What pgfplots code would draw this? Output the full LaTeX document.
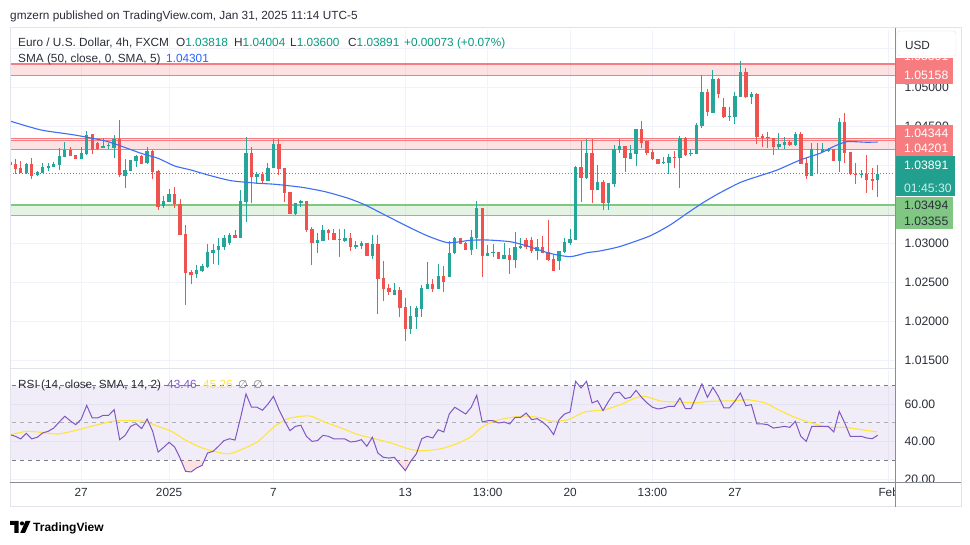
\documentclass[border=0pt]{standalone}
\usepackage{fontspec}
\setmainfont{Liberation Sans}
\newfontfamily\dejavu{DejaVu Sans}
\usepackage{pgfplots}
\usepackage{pgfplotstable}
\pgfplotsset{compat=1.18}
\definecolor{upc}{HTML}{26A69A}
\definecolor{dnc}{HTML}{EF5350}
\definecolor{smac}{HTML}{3D6EF5}
\definecolor{txt}{HTML}{2A2E39}
\definecolor{gridc}{HTML}{F0F3FA}
\definecolor{zred}{HTML}{F23645}
\definecolor{redline}{HTML}{F77C80}
\definecolor{zgreen}{HTML}{4CAF50}
\definecolor{greenline}{HTML}{81C784}
\definecolor{rsic}{HTML}{7E57C2}
\definecolor{rsisma}{HTML}{FFE53B}
\definecolor{scaleline}{HTML}{8A8D96}
\definecolor{dashc}{HTML}{787B86}
\definecolor{framec}{HTML}{E0E3EB}
\definecolor{tealbox}{HTML}{22A08F}
\definecolor{valc}{HTML}{089981}
\definecolor{bluev}{HTML}{2962FF}
\newcommand\fs{\fontsize{11.8pt}{14pt}\selectfont}
\newcommand\fss{\fontsize{12.2pt}{14pt}\selectfont}

\pgfplotstableread{
i O H L C
-1 1.04050 1.04060 1.03990 1.04010
0 1.04019 1.04079 1.03891 1.03959
1 1.03968 1.04058 1.03900 1.03908
2 1.03904 1.04036 1.03891 1.04024
3 1.04019 1.04092 1.03831 1.03870
4 1.03874 1.03929 1.03870 1.03921
5 1.03908 1.04036 1.03908 1.03977
6 1.03972 1.04028 1.03925 1.03998
7 1.03985 1.04049 1.03977 1.04019
8 1.04011 1.04224 1.03942 1.04122
9 1.04113 1.04301 1.04113 1.04199
10 1.04194 1.04233 1.04122 1.04126
11 1.04139 1.04139 1.04079 1.04088
12 1.04088 1.04233 1.04079 1.04156
13 1.04147 1.04442 1.04139 1.04391
14 1.04400 1.04408 1.04147 1.04199
15 1.04293 1.04306 1.04199 1.04207
16 1.04229 1.04348 1.04229 1.04254
17 1.04254 1.04284 1.04216 1.04263
18 1.04229 1.04391 1.04100 1.04340
19 1.04340 1.04583 1.03857 1.03874
20 1.03870 1.04079 1.03716 1.03942
21 1.03934 1.04071 1.03934 1.04071
22 1.04058 1.04135 1.03985 1.04118
23 1.04126 1.04139 1.04019 1.04024
24 1.04028 1.04237 1.04015 1.04186
25 1.04190 1.04194 1.03831 1.03921
26 1.03929 1.03942 1.03429 1.03472
27 1.03476 1.03613 1.03455 1.03545
28 1.03532 1.03699 1.03532 1.03635
29 1.03635 1.03720 1.03455 1.03502
30 1.03502 1.03570 1.03113 1.03113
31 1.03122 1.03237 1.02216 1.02622
32 1.02635 1.02660 1.02477 1.02600
33 1.02605 1.02724 1.02562 1.02656
34 1.02647 1.02733 1.02639 1.02707
35 1.02703 1.02994 1.02682 1.02891
36 1.02882 1.02994 1.02733 1.02921
37 1.02912 1.03071 1.02729 1.02972
38 1.02959 1.03105 1.02917 1.03071
39 1.03002 1.03130 1.02981 1.03109
40 1.03109 1.03173 1.03075 1.03075
41 1.03075 1.03686 1.03075 1.03545
42 1.03536 1.04370 1.03280 1.04160
43 1.04160 1.04241 1.03515 1.03857
44 1.03857 1.03917 1.03763 1.03891
45 1.03891 1.03912 1.03771 1.03806
46 1.03806 1.04028 1.03806 1.03964
47 1.03964 1.04335 1.03964 1.04276
48 1.04276 1.04335 1.03878 1.03955
49 1.03964 1.03964 1.03536 1.03652
50 1.03660 1.03660 1.03383 1.03383
51 1.03374 1.03524 1.03365 1.03515
52 1.03515 1.03558 1.03464 1.03545
53 1.03545 1.03545 1.03152 1.03173
54 1.03186 1.03207 1.02724 1.03011
55 1.03011 1.03130 1.02883 1.03045
56 1.03036 1.03237 1.03036 1.03173
57 1.03173 1.03190 1.03049 1.03130
58 1.03130 1.03186 1.03045 1.03045
59 1.03058 1.03182 1.02831 1.03049
60 1.03036 1.03186 1.03024 1.03075
61 1.03066 1.03130 1.02908 1.02959
62 1.02959 1.03032 1.02934 1.02977
63 1.02972 1.03032 1.02930 1.03006
64 1.03011 1.03011 1.02840 1.02840
65 1.02840 1.03105 1.02806 1.02994
66 1.02994 1.03105 1.02100 1.02545
67 1.02558 1.02776 1.02263 1.02417
68 1.02430 1.02481 1.02340 1.02378
69 1.02344 1.02489 1.02344 1.02404
70 1.02404 1.02438 1.02058 1.02177
71 1.02186 1.02306 1.01754 1.01904
72 1.01904 1.02203 1.01844 1.02071
73 1.02062 1.02199 1.01904 1.02173
74 1.02160 1.02464 1.02062 1.02430
75 1.02421 1.02763 1.02421 1.02481
76 1.02481 1.02541 1.02383 1.02417
77 1.02417 1.02733 1.02417 1.02583
78 1.02583 1.02712 1.02383 1.02511
79 1.02575 1.03032 1.02575 1.02874
80 1.02874 1.03088 1.02861 1.03075
81 1.03071 1.03071 1.02989 1.02989
82 1.03002 1.03024 1.02921 1.02921
83 1.02921 1.03173 1.02857 1.03079
84 1.03075 1.03549 1.02930 1.03451
85 1.03451 1.03451 1.02575 1.02844
86 1.02844 1.02981 1.02844 1.02878
87 1.02882 1.02994 1.02823 1.02887
88 1.02891 1.02891 1.02806 1.02806
89 1.02806 1.03006 1.02806 1.02853
90 1.02853 1.02947 1.02605 1.02788
91 1.02788 1.03147 1.02682 1.02955
92 1.02942 1.03075 1.02934 1.02968
93 1.03045 1.03071 1.02934 1.02951
94 1.03045 1.03079 1.02874 1.02908
95 1.02908 1.03053 1.02784 1.02951
96 1.02951 1.03100 1.02874 1.02882
97 1.02895 1.03301 1.02780 1.02793
98 1.02801 1.02853 1.02652 1.02652
99 1.02780 1.02904 1.02660 1.02904
100 1.02895 1.03071 1.02882 1.03019
101 1.03011 1.03186 1.02985 1.03062
102 1.03049 1.03989 1.03049 1.03981
103 1.03981 1.04310 1.03536 1.03844
104 1.03835 1.04340 1.03827 1.04160
105 1.04160 1.04340 1.03524 1.03686
106 1.03686 1.04002 1.03686 1.03788
107 1.03788 1.03814 1.03425 1.03524
108 1.03524 1.03771 1.03430 1.03771
109 1.03767 1.04263 1.03729 1.04212
110 1.04194 1.04344 1.04165 1.04246
111 1.04246 1.04246 1.03917 1.04092
112 1.04083 1.04263 1.04079 1.04165
113 1.04147 1.04464 1.03998 1.04464
114 1.04464 1.04571 1.04224 1.04293
115 1.04318 1.04318 1.04130 1.04165
116 1.04173 1.04216 1.04071 1.04079
117 1.04079 1.04079 1.04024 1.04024
118 1.04028 1.04105 1.04024 1.04045
119 1.04028 1.04148 1.03891 1.04113
120 1.04109 1.04190 1.03964 1.04101
121 1.04101 1.04383 1.03716 1.04348
122 1.04348 1.04370 1.04126 1.04135
123 1.04152 1.04207 1.04122 1.04165
124 1.04152 1.04541 1.04152 1.04519
125 1.04506 1.05156 1.04477 1.04942
126 1.04942 1.04981 1.04639 1.04682
127 1.04677 1.05224 1.04677 1.05109
128 1.05109 1.05126 1.04861 1.04921
129 1.04746 1.04870 1.04613 1.04626
130 1.04626 1.04754 1.04571 1.04635
131 1.04626 1.04947 1.04536 1.04887
132 1.04883 1.05340 1.04883 1.05199
133 1.05199 1.05246 1.04861 1.04874
134 1.04883 1.04947 1.04793 1.04917
135 1.04917 1.04925 1.04276 1.04370
136 1.04378 1.04400 1.04237 1.04357
137 1.04370 1.04425 1.04229 1.04361
138 1.04353 1.04353 1.04135 1.04237
139 1.04237 1.04412 1.04212 1.04276
140 1.04263 1.04365 1.04212 1.04306
141 1.04297 1.04327 1.04254 1.04263
142 1.04263 1.04434 1.04254 1.04404
143 1.04404 1.04434 1.04019 1.04019
144 1.04028 1.04092 1.03823 1.03870
145 1.03870 1.04284 1.03870 1.04207
146 1.04207 1.04284 1.03891 1.04199
147 1.04177 1.04284 1.04177 1.04207
148 1.04182 1.04229 1.04177 1.04216
149 1.04216 1.04216 1.04058 1.04058
150 1.04058 1.04605 1.03912 1.04558
151 1.04558 1.04669 1.04028 1.04165
152 1.04173 1.04173 1.03878 1.03891
153 1.03895 1.04028 1.03763 1.03887
154 1.03887 1.03942 1.03836 1.03895
155 1.03895 1.04135 1.03652 1.03814
156 1.03827 1.03964 1.03686 1.03806
157 1.03818 1.04004 1.03600 1.03891
}\ohlc

\pgfplotstableread{
i s
-0.96 1.04570
4.7 1.04455
10.8 1.04391
16.9 1.04305
22.9 1.04156
26.0 1.04092
29.0 1.03994
32.0 1.03942
35.1 1.03878
39.3 1.03805
44.2 1.03772
47.3 1.03759
52.2 1.03720
56.4 1.03664
60.6 1.03580
63.7 1.03494
67.3 1.03365
71.5 1.03215
75.1 1.03096
78.8 1.03010
82.8 1.03041
85.9 1.03045
90.1 1.03023
93.2 1.02968
97.3 1.02874
101.0 1.02831
104.1 1.02882
106.4 1.02904
110.1 1.02962
115.5 1.03096
119.2 1.03237
122.3 1.03387
125.2 1.03523
127.9 1.03635
131.9 1.03780
135.0 1.03856
138.7 1.03942
142.9 1.04071
146.5 1.04156
148.9 1.04241
151.4 1.04305
155.0 1.04298
157.0 1.04301
}\smadata

\pgfplotstableread{
i r
-1 43.8
0 42.9
1 41.5
2 44.5
3 41.5
4 42.4
5 44.7
6 45.6
7 47.3
8 50.5
9 53.6
10 51.2
11 49.1
12 52.1
13 59.4
14 52.7
15 52.7
16 54.1
17 54.1
18 57.1
19 41.1
20 43.4
21 48.2
22 49.6
23 47.0
24 52.1
25 45.6
26 34.5
27 37.0
28 39.7
29 37.2
30 31.3
31 24.2
32 23.9
33 26.0
34 27.4
35 34.0
36 34.9
37 37.6
38 40.6
39 41.6
40 40.9
41 52.7
42 65.5
43 58.4
44 58.4
45 56.8
46 60.1
47 64.2
48 57.1
49 51.2
50 45.9
51 48.2
52 48.8
53 42.9
54 40.2
55 40.6
56 43.4
57 42.9
58 41.5
59 41.5
60 41.5
61 39.9
62 40.2
63 41.1
64 37.6
65 42.4
66 34.0
67 31.7
68 31.3
69 31.7
70 28.1
71 24.6
72 29.6
73 33.5
74 41.6
75 42.9
76 42.0
77 46.4
78 45.2
79 54.8
80 58.4
81 56.6
82 54.8
83 58.4
84 64.8
85 50.5
86 51.2
87 51.2
88 50.0
89 50.5
90 49.5
91 53.0
92 53.0
93 55.3
94 51.8
95 52.3
96 50.5
97 47.9
98 43.8
99 51.8
100 54.8
101 55.9
102 72.2
103 68.7
104 72.2
105 60.7
106 61.9
107 56.6
108 61.6
109 66.0
110 66.4
111 63.0
112 63.7
113 67.4
114 63.7
115 60.7
116 58.4
117 57.5
118 58.0
119 58.9
120 58.9
121 63.3
122 57.6
123 57.6
124 64.2
125 70.8
126 63.7
127 69.0
128 64.2
129 58.0
130 58.0
131 61.6
132 66.0
133 59.2
134 59.8
135 49.5
136 49.5
137 49.1
138 47.3
139 47.7
140 48.2
141 47.7
142 50.9
143 42.9
144 40.2
145 48.2
146 48.2
147 48.2
148 48.2
149 45.2
150 56.2
151 50.0
152 42.9
153 42.9
154 42.9
155 42.0
156 41.6
157 43.46
}\rsidata

\pgfplotstableread{
i r
-0.96 43.6
0.49 44.7
2.31 45.6
4.74 45.0
7.77 44.1
10.81 45.9
13.84 48.2
16.87 50.4
18.70 51.2
21.12 51.2
23.55 50.9
25.98 48.2
28.40 45.6
30.83 41.1
33.26 37.6
35.69 35.2
38.72 33.5
41.15 35.8
44.18 40.2
47.22 48.2
49.64 52.3
52.07 53.6
53.89 53.6
56.32 50.5
59.35 47.3
62.39 43.8
65.42 41.6
68.46 39.3
71.49 36.3
73.92 35.2
77.56 36.3
80.66 39.3
83.08 42.9
84.91 47.7
87.33 51.2
90.37 53.0
92.79 53.7
95.83 52.7
97.65 50.9
100.68 51.8
103.72 55.9
107.36 57.1
110.39 60.1
112.82 63.3
114.64 64.2
117.67 61.6
120.71 61.2
123.74 60.8
126.78 61.6
131.02 61.9
133.45 62.4
136.49 60.7
138.91 57.1
141.95 53.0
144.98 50.0
148.02 47.7
151.05 47.7
154.09 46.4
156.88 45.26
}\rsismadata

\newcommand\pbox[6]{%
  \fill[#3] (895.5,545-#1) rectangle (#6,545-#2);
  \node[anchor=west,inner sep=0pt,text=#4,font=\fss] at (904,545-0.5*#1-0.5*#2) {#5};}

\begin{document}
\begin{tikzpicture}
\path[use as bounding box] (0,0) rectangle (970pt,545pt);
\fill[white] (0,0) rectangle (970pt,545pt);

% ---------------- main price pane ----------------
\begin{axis}[
  at={(10pt,176pt)}, anchor=south west, scale only axis,
  width=885pt, height=339pt,
  xmin=-0.965, xmax=160.15,
  ymin=1.013910, ymax=1.057372,
  axis line style={draw=none},
  major tick length=0pt,
  xtick={12,28,47,71,86,101,116,131,159},
  xticklabels={},
  ytick={1.015,1.02,1.025,1.03,1.035,1.04,1.045,1.05,1.055},
  yticklabel pos=right,
  grid=major,
  grid style={draw=gridc, line width=1pt},
  yticklabel style={anchor=west, inner sep=0pt, xshift=9.5pt, font=\fss, text=txt,
    /pgf/number format/.cd, fixed, fixed zerofill, precision=5, assume math mode=true},
]
% zones
\addplot[draw=none, fill=zred, fill opacity=0.14, forget plot] coordinates {(-2,1.05158) (162,1.05158) (162,1.05301) (-2,1.05301)} -- cycle;
\addplot[draw=none, fill=zred, fill opacity=0.14, forget plot] coordinates {(-2,1.04201) (162,1.04201) (162,1.04344) (-2,1.04344)} -- cycle;
\addplot[draw=none, fill=zgreen, fill opacity=0.15, forget plot] coordinates {(-2,1.03355) (162,1.03355) (162,1.03494) (-2,1.03494)} -- cycle;
\addplot[redline, line width=2pt, forget plot] coordinates {(-2,1.05301) (162,1.05301)};
\addplot[redline, line width=1.2pt, forget plot] coordinates {(-2,1.05158) (162,1.05158)};
\addplot[redline, line width=1.2pt, forget plot] coordinates {(-2,1.04344) (162,1.04344)};
\addplot[redline, line width=1.2pt, forget plot] coordinates {(-2,1.04318) (162,1.04318)};
\addplot[redline, line width=1.2pt, forget plot] coordinates {(-2,1.04201) (162,1.04201)};
\addplot[greenline, line width=2pt, forget plot] coordinates {(-2,1.03494) (162,1.03494)};
\addplot[greenline, line width=1.2pt, forget plot] coordinates {(-2,1.03355) (162,1.03355)};
% last price line
\addplot[upc, line width=1pt, dash pattern=on 1pt off 2pt, forget plot] coordinates {(-2,1.03891) (162,1.03891)};
% candles
\pgfplotstablegetrowsof{\ohlc}
\pgfmathtruncatemacro\lastrow{\pgfplotsretval-1}
\pgfplotsforeachungrouped \rr in {0,...,\lastrow}{%
  \pgfplotstablegetelem{\rr}{i}\of\ohlc \let\ci\pgfplotsretval
  \pgfplotstablegetelem{\rr}{O}\of\ohlc \let\co\pgfplotsretval
  \pgfplotstablegetelem{\rr}{H}\of\ohlc \let\ch\pgfplotsretval
  \pgfplotstablegetelem{\rr}{L}\of\ohlc \let\cl\pgfplotsretval
  \pgfplotstablegetelem{\rr}{C}\of\ohlc \let\cc\pgfplotsretval
  \pgfmathtruncatemacro\isup{\cc>=\co?1:0}%
  \ifnum\isup=1 \def\ccol{upc}\else\def\ccol{dnc}\fi
  \edef\doplot{%
    \noexpand\addplot[\ccol, line width=1pt, forget plot] coordinates {(\ci,\cl) (\ci,\ch)};%
    \noexpand\addplot[\ccol, line width=3.4pt, line cap=butt, forget plot] coordinates {(\ci,\co) (\ci,\cc)};%
  }\doplot
}
% SMA 50
\addplot[smac, line width=1.1pt, smooth, tension=0.4] table[x=i,y=s]{\smadata};
\end{axis}

% ---------------- RSI pane ----------------
\begin{axis}[
  at={(10pt,62.3pt)}, anchor=south west, scale only axis,
  width=885pt, height=112.7pt,
  xmin=-0.965, xmax=160.15,
  ymin=18.16, ymax=78.27,
  axis line style={draw=none},
  major tick length=0pt,
  xtick={12,28,47,71,86,101,116,131,159},
  xticklabels={27,2025,7,13,13:00,20,13:00,27,Feb},
  xticklabel style={anchor=base, yshift=-14.3pt, font=\fs, text=txt},
  ytick={20,40,60},
  yticklabel pos=right,
  grid=major,
  grid style={draw=gridc, line width=1pt},
  yticklabel style={anchor=west, inner sep=0pt, xshift=9.5pt, font=\fss, text=txt,
    /pgf/number format/.cd, fixed, fixed zerofill, precision=2, assume math mode=true},
]
\addplot[draw=none, fill=rsic, fill opacity=0.1, forget plot] coordinates {(-2,30) (162,30) (162,70) (-2,70)} -- cycle;
\addplot[dashc, line width=1pt, dash pattern=on 4pt off 4pt, forget plot] coordinates {(-2,70) (162,70)};
\addplot[dashc!60, line width=1pt, dash pattern=on 4pt off 4pt, forget plot] coordinates {(-2,50) (162,50)};
\addplot[dashc, line width=1pt, dash pattern=on 4pt off 4pt, forget plot] coordinates {(-2,30) (162,30)};
% oversold shading (RSI below 30)
\addplot[draw=none, fill=dnc, fill opacity=0.16, forget plot] coordinates {(30.18,30) (31,24.2) (32,23.9) (33,26.0) (34,27.4) (34.39,30)} -- cycle;
\addplot[draw=none, fill=dnc, fill opacity=0.16, forget plot] coordinates {(69.47,30) (70,28.1) (71,24.6) (72,29.6) (72.1,30)} -- cycle;
\addplot[rsisma, line width=1.1pt, smooth, tension=0.4] table[x=i,y=r]{\rsismadata};
\addplot[rsic, line width=1pt] table[x=i,y=r]{\rsidata};
\end{axis}

\begin{scope}[x=1pt,y=1pt]
% frame and scale lines
\fill[white] (895.5,38) rectangle (960.5,61.8);
\draw[framec, line width=1pt] (10,517) rectangle (961,38);
\draw[framec, line width=1pt] (10,176) -- (895,176);
\draw[scaleline, line width=1pt] (895,517) -- (895,38);
\draw[scaleline, line width=1pt] (10,62.3) -- (961,62.3);

% price scale labels
\pbox{48.5}{64.5}{redline}{white}{1.05301}{953}
\fill[white] (895.5,545-28.5) rectangle (960.5,545-58.3);
\filldraw[fill=white, draw=framec, rounded corners=3pt] (897,489) rectangle (956,514);
\node[font=\fs, text=txt] at (917.5,500) {USD};
\fill[redline] (895.5,545-61.2) rectangle (953,545-84.5);
\node[anchor=west,inner sep=0pt,text=white,font=\fss] at (904,545-75.6) {1.05158};
\pbox{125}{141}{redline}{white}{1.04344}{953}
\pbox{141}{156}{redline}{white}{1.04201}{953}
\fill[tealbox] (895.5,545-156.3) rectangle (955,545-196.3);
\node[anchor=west,inner sep=0pt,text=white,font=\fss] at (904,545-165.3) {1.03891};
\node[anchor=west,inner sep=0pt,text=white,text opacity=0.8,font=\fss] at (904,545-188) {01:45:30};
\pbox{197}{213}{greenline}{txt}{1.03494}{953}
\pbox{213}{229}{greenline}{txt}{1.03355}{953}

% header
\node[anchor=base west, inner sep=0pt, font=\fs, text=txt] at (10,525.5) {gmzern published on TradingView.com, Jan 31, 2025 11:14 UTC-5};
% legend row 1
\node[anchor=base west, inner sep=0pt, font=\fs, text=txt] at (18,498.3) {Euro / U.S. Dollar, 4h, FXCM};
\node[anchor=base west, inner sep=0pt, font=\fs] at (176,498.3) {\textcolor{txt}{O}\textcolor{valc}{1.03818}};
\node[anchor=base west, inner sep=0pt, font=\fs] at (234,498.3) {\textcolor{txt}{H}\textcolor{valc}{1.04004}};
\node[anchor=base west, inner sep=0pt, font=\fs] at (290,498.3) {\textcolor{txt}{L}\textcolor{valc}{1.03600}};
\node[anchor=base west, inner sep=0pt, font=\fs] at (348,498.3) {\textcolor{txt}{C}\textcolor{valc}{1.03891}};
\node[anchor=base west, inner sep=0pt, font=\fs, text=valc] at (404,498.3) {+0.00073 (+0.07\%)};
% legend row 2
\node[anchor=base west, inner sep=0pt, font=\fs, text=txt] at (18,482.5) {SMA (50, close, 0, SMA, 5)};
\node[anchor=base west, inner sep=0pt, font=\fs, text=bluev] at (166,482.5) {1.04301};
% RSI legend
\node[anchor=base west, inner sep=0pt, font=\fs, text=txt] at (18,156.3) {RSI (14, close, SMA, 14, 2)};
\node[anchor=base west, inner sep=0pt, font=\fs, text=rsic] at (167,156.3) {43.46};
\node[anchor=base west, inner sep=0pt, font=\fs, text=rsisma] at (203,156.3) {45.26};
\node[anchor=base west, inner sep=0pt, font=\fs, text=dashc] at (238,156.3) {\dejavu\fontsize{11pt}{13pt}\selectfont ∅};
\node[anchor=base west, inner sep=0pt, font=\fs, text=dashc] at (253,156.3) {\dejavu\fontsize{11pt}{13pt}\selectfont ∅};

% footer logo
\fill[black] (10,24) -- (18.6,24) -- (18.6,12) -- (14.4,12) -- (14.4,20) -- (10,20) -- cycle;
\fill[black] (22,21.6) circle (2.1);
\fill[black] (20.2,12) -- (25,12) -- (30.4,24) -- (25.6,24) -- cycle;
\node[anchor=base west, inner sep=0pt, font=\fontsize{12pt}{14pt}\selectfont\bfseries, text=black] at (33,13.5) {TradingView};
\end{scope}
\end{tikzpicture}
\end{document}
